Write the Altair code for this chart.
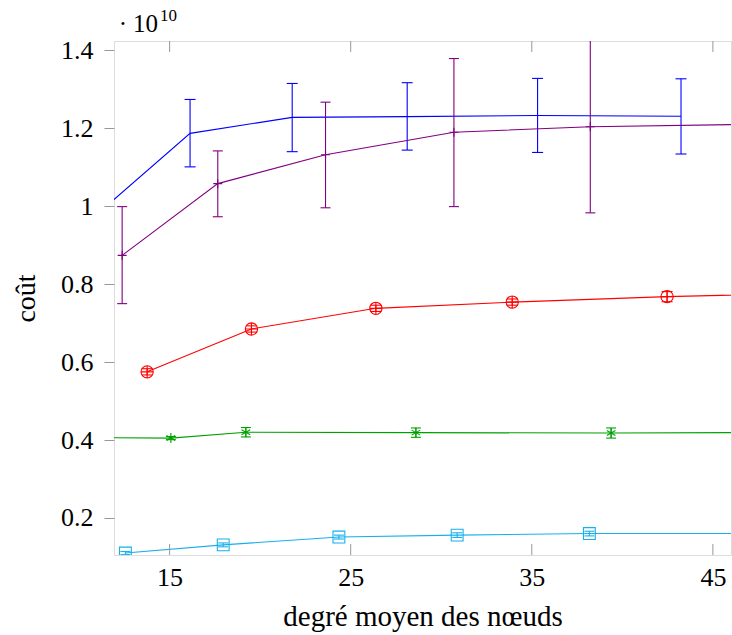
import altair as alt
import pandas as pd

# Mean node degree (x) against cost in units of 1e10 (y); lo/hi are the error bar ends.
blue_x = [11.5, 16.13, 21.77, 28.12, 35.32, 43.24]
blue_y = [1.000, 1.187, 1.228, 1.230, 1.233, 1.231]
blue_lo = [0.920, 1.101, 1.140, 1.144, 1.138, 1.134]
blue_hi = [1.080, 1.274, 1.315, 1.317, 1.328, 1.327]

purple_x = [12.38, 17.66, 23.61, 30.70, 38.23, 47.0]
purple_y = [0.874, 1.058, 1.132, 1.190, 1.204, 1.210]
purple_lo = [0.750, 0.973, 0.996, 0.999, 0.983, 1.000]
purple_hi = [0.999, 1.142, 1.267, 1.379, 1.450, 1.420]

red_x = [13.76, 19.52, 26.39, 33.92, 42.47, 51.5]
red_y = [0.575, 0.685, 0.738, 0.754, 0.768, 0.778]
red_lo = [0.567, 0.677, 0.730, 0.746, 0.755, 0.768]
red_hi = [0.583, 0.693, 0.746, 0.762, 0.781, 0.788]

green_x = [11.0, 15.07, 19.21, 28.60, 39.38, 51.0]
green_y = [0.406, 0.405, 0.420, 0.419, 0.418, 0.420]
green_lo = [0.401, 0.401, 0.408, 0.407, 0.405, 0.410]
green_hi = [0.411, 0.409, 0.432, 0.431, 0.431, 0.430]

cyan_x = [12.56, 17.96, 24.35, 30.88, 38.18, 47.0]
cyan_y = [0.110, 0.131, 0.151, 0.156, 0.160, 0.160]
cyan_lo = [0.106, 0.126, 0.146, 0.150, 0.154, 0.154]
cyan_hi = [0.114, 0.136, 0.156, 0.162, 0.166, 0.166]

x_ticks = [15, 25, 35, 45]
y_ticks = [0.2, 0.4, 0.6, 0.8, 1.0, 1.2, 1.4]

X_DOMAIN = [11.93, 46.0]
Y_DOMAIN = [0.105, 1.424]
W, H = 617, 514
FONT = "Liberation Serif, DejaVu Serif, serif"

x_scale = alt.Scale(domain=X_DOMAIN, nice=False, zero=False)
y_scale = alt.Scale(domain=Y_DOMAIN, nice=False, zero=False)

x_axis = alt.Axis(
    values=x_ticks, title="degré moyen des nœuds", grid=False, domain=False,
    ticks=False, labelPadding=9, labelFontSize=26, labelFont=FONT,
    labelColor="#000", titleFont=FONT, titleFontSize=29, titleFontWeight="normal",
    titleColor="#000", titlePadding=12,
)
y_axis = alt.Axis(
    values=y_ticks, format="~g", title="coût", grid=False, domain=False,
    tickSize=10, tickColor="#999", tickWidth=1, labelPadding=11,
    labelFontSize=26, labelFont=FONT, labelColor="#000",
    titleFont=FONT, titleFontSize=28, titleFontWeight="normal", titleColor="#000",
    titleX=-88, titleY=H / 2, titleAngle=-90, titleBaseline="middle", titleAlign="center",
)


def xe(field):
    return alt.X(f"{field}:Q", scale=x_scale, axis=x_axis)


def ye(field):
    return alt.Y(f"{field}:Q", scale=y_scale, axis=y_axis)


OPLUS = "M-1,0A1,1,0,1,1,1,0A1,1,0,1,1,-1,0ZM-1,0L1,0M0,-1L0,1"
STAR = "M0,-1L0,1M-0.866,-0.5L0.866,0.5M-0.866,0.5L0.866,-0.5"
PLUS = "M-1,0L1,0M0,-1L0,1"
SQUARE = "M-1,-1L1,-1L1,1L-1,1Z"


def series(x, y, lo, hi, color, shape=None, size=0, cap=10):
    df = pd.DataFrame({"x": x, "y": y, "lo": lo, "hi": hi})
    base = alt.Chart(df)
    layers = [
        base.mark_line(color=color, strokeWidth=1.1, clip=True).encode(x=xe("x"), y=ye("y")),
        base.mark_rule(color=color, strokeWidth=1.1, clip=True).encode(
            x=xe("x"), y=ye("lo"), y2="hi"),
        base.mark_tick(orient="horizontal", color=color, size=cap, thickness=1.1,
                       clip=True, opacity=1).encode(x=xe("x"), y=ye("lo")),
        base.mark_tick(orient="horizontal", color=color, size=cap, thickness=1.1,
                       clip=True, opacity=1).encode(x=xe("x"), y=ye("hi")),
    ]
    if shape:
        layers.append(
            base.mark_point(shape=shape, size=size, filled=False, color=color,
                            strokeWidth=1.1, opacity=1, clip=True).encode(x=xe("x"), y=ye("y"))
        )
    return layers


layers = []
layers += series(blue_x, blue_y, blue_lo, blue_hi, "#0000ff", cap=11)
layers += series(purple_x, purple_y, purple_lo, purple_hi, "#800080", PLUS, 81, cap=10)
layers += series(red_x, red_y, red_lo, red_hi, "#ff0000", OPLUS, 150, cap=11)
layers += series(green_x, green_y, green_lo, green_hi, "#00a000", STAR, 100, cap=10)
layers += series(cyan_x, cyan_y, cyan_lo, cyan_hi, "#16b0ec", SQUARE, 140, cap=10)

# inward tick marks on the bottom and top frame edges
xt = alt.Chart(pd.DataFrame({"t": x_ticks}))
layers.append(xt.mark_rule(color="#999", strokeWidth=1).encode(
    x=xe("t"), y=alt.value(H - 11), y2=alt.value(H)))
layers.append(xt.mark_rule(color="#999", strokeWidth=1).encode(
    x=xe("t"), y=alt.value(0), y2=alt.value(11)))

# axis multiplier "· 10^10" above the frame
dot = alt.Chart(pd.DataFrame({"d": ["·"]}))
layers.append(dot.mark_text(align="center", baseline="alphabetic", font=FONT, fontSize=25,
                            color="#000").encode(text="d:N", x=alt.value(9), y=alt.value(-9)))
base10 = alt.Chart(pd.DataFrame({"m": ["10"]}))
layers.append(base10.mark_text(align="left", baseline="alphabetic", font=FONT, fontSize=25,
                               color="#000").encode(text="m:N", x=alt.value(19), y=alt.value(-9)))
exp = alt.Chart(pd.DataFrame({"e": ["10"]}))
layers.append(exp.mark_text(align="left", baseline="alphabetic", font=FONT, fontSize=17,
                            color="#000").encode(text="e:N", x=alt.value(46), y=alt.value(-20)))

chart = alt.layer(*layers).properties(
    width=W, height=H,
    autosize=alt.AutoSizeParams(type="none"),
    padding={"left": 114, "top": 41, "right": 1, "bottom": 80},
).configure_view(stroke="#222", strokeWidth=1.2).configure(
    background="white", font=FONT
)

chart.save("out.html", embed_options={"renderer": "svg", "actions": False})
